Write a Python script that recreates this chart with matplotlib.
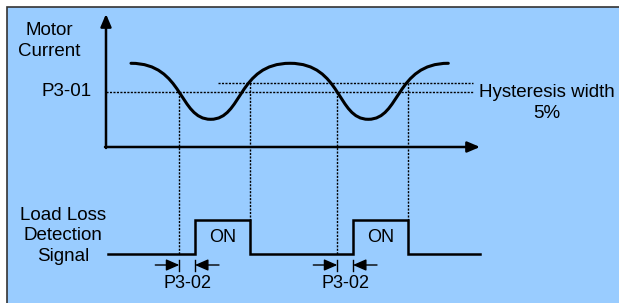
"""Load loss detection timing diagram (motor current vs detection signal)."""

import numpy as np
import matplotlib.pyplot as plt
import matplotlib.patches as patches
from matplotlib.path import Path

plt.rcParams["font.family"] = ["Liberation Sans", "DejaVu Sans"]

# Diagram coordinates are in picture pixels (x right, y down)
# Motor current curve: peaks and troughs
extrema_x = [131, 210.7, 290, 368.3, 448.3]
extrema_y = [63.3, 119.3, 63.3, 119.3, 63.3]

p3_01_level = 91.7        # detection level
hyst_level = 82.7         # release level (+5 %)
trip_x = [179.3, 337.3]   # current falls below P3-01
release_x = [250, 408.3]  # current rises above hysteresis level
on_x = [195, 353]         # signal ON after P3-02 delay
sig_low = 254
sig_high = 220
sig_start, sig_end = 108, 480

BLUE = "#99CCFF"
DOT = (0, (1.5, 1.0))
PEAK_HANDLE = 0.66    # broad peaks
TROUGH_HANDLE = 0.40  # narrow troughs


def wave_path(xs, ys):
    """Cubic Bezier between extrema, flat tangents at each extremum."""
    verts = [(xs[0], ys[0])]
    codes = [Path.MOVETO]
    for i in range(len(xs) - 1):
        x0, y0, x1, y1 = xs[i], ys[i], xs[i + 1], ys[i + 1]
        d = x1 - x0
        h0 = PEAK_HANDLE if y0 < y1 else TROUGH_HANDLE
        h1 = TROUGH_HANDLE if y0 < y1 else PEAK_HANDLE
        verts += [(x0 + h0 * d, y0), (x1 - h1 * d, y1), (x1, y1)]
        codes += [Path.CURVE4] * 3
    return Path(np.array(verts), codes)


fig = plt.figure(figsize=(6.19, 3.03), dpi=100)
ax = fig.add_axes([0, 0, 1, 1])
ax.set_xlim(0, 619)
ax.set_ylim(303, 0)
ax.axis("off")

# background panel
ax.add_patch(patches.Rectangle((7, 7), 620, 300, facecolor=BLUE,
                               edgecolor="#333333", linewidth=1.2, zorder=0))

# axes with arrow heads
arrow_kw = dict(arrowstyle="-|>,head_length=0.75,head_width=0.32",
                color="black", lw=1.8, mutation_scale=10,
                shrinkA=0, shrinkB=0)
ax.annotate("", xy=(106, 14), xytext=(106, 148), arrowprops=arrow_kw)
ax.annotate("", xy=(480, 147), xytext=(105, 147), arrowprops=arrow_kw)

# threshold lines
ax.plot([106, 473], [p3_01_level, p3_01_level], color="black", lw=1.0, ls=DOT)
ax.plot([218, 473], [hyst_level, hyst_level], color="black", lw=1.0, ls=DOT)

# vertical guides
for x in trip_x:
    ax.plot([x, x], [p3_01_level, sig_low], color="black", lw=1.0, ls=DOT)
for x in release_x:
    ax.plot([x, x], [hyst_level, sig_high], color="black", lw=1.0, ls=DOT)

# motor current curve
ax.add_patch(patches.PathPatch(wave_path(extrema_x, extrema_y), fill=False,
                               edgecolor="black", lw=2.2, capstyle="round"))

# detection signal
sx = [sig_start]
sy = [sig_low]
for a, b in zip(on_x, release_x):
    sx += [a, a, b, b]
    sy += [sig_low, sig_high, sig_high, sig_low]
sx.append(sig_end)
sy.append(sig_low)
ax.plot(sx, sy, color="black", lw=1.8, solid_joinstyle="miter")

# P3-02 delay markers
small_kw = dict(arrowstyle="-|>,head_length=0.8,head_width=0.35",
                color="black", lw=1.0, mutation_scale=10,
                shrinkA=0, shrinkB=0)
ay = 265
for t, o in zip(trip_x, on_x):
    ax.annotate("", xy=(t, ay), xytext=(t - 24, ay), arrowprops=small_kw)
    ax.annotate("", xy=(o, ay), xytext=(o + 24, ay), arrowprops=small_kw)
    for x in (t, o):
        ax.plot([x, x], [259.5, 270.5], color="black", lw=1.0)
    ax.text((t + o) / 2, 283, "P3-02", ha="center", va="center", fontsize=13)

for o, r in zip(on_x, release_x):
    ax.text((o + r) / 2, 238, "ON", ha="center", va="center", fontsize=13)

# labels
fs = 13.5
ax.text(49, 41, "Motor\nCurrent", ha="center", va="center", fontsize=fs,
        linespacing=1.32)
ax.text(92, 91, "P3-01", ha="right", va="center", fontsize=fs)
ax.text(547, 103, "Hysteresis width\n5%", ha="center", va="center",
        multialignment="center", fontsize=fs, linespacing=1.32)
ax.text(63, 236, "Load Loss\nDetection\nSignal", ha="center", va="center",
        multialignment="center", fontsize=fs, linespacing=1.28)

fig.savefig("out.png", dpi=100, facecolor="white")
